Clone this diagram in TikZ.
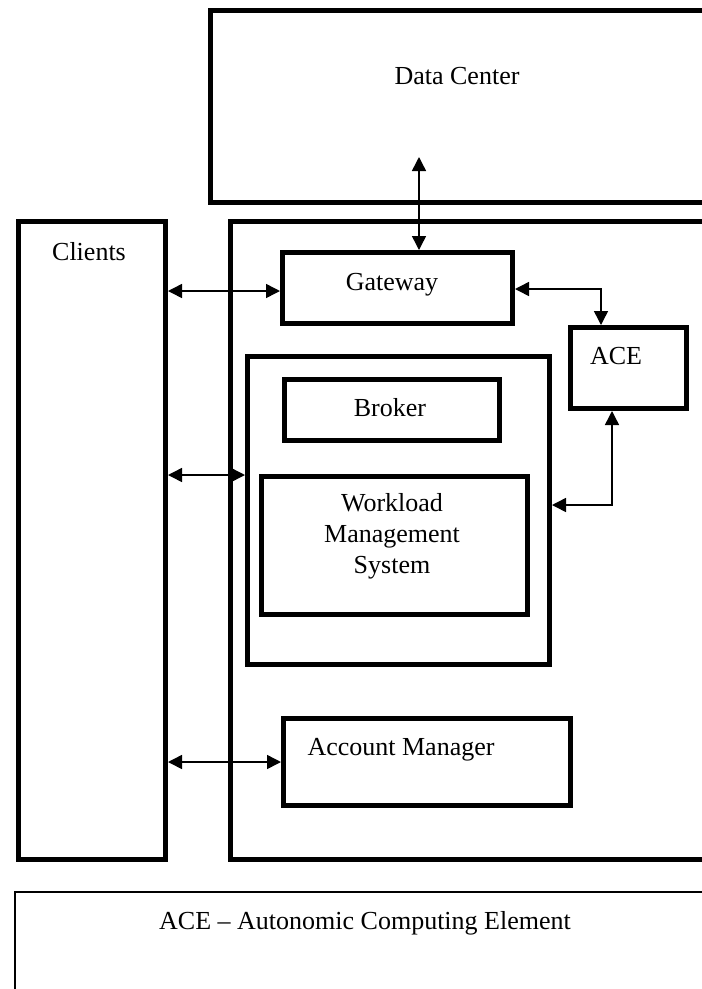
\documentclass[tikz,border=0pt]{standalone}
\usepackage{fontspec}
\setmainfont{Liberation Serif}
\usetikzlibrary{arrows.meta}
\tikzset{
 blk/.style={draw,line width=5pt,anchor=north west,inner sep=0pt},
 lbl/.style={font=\fontsize{26}{31}\selectfont,align=center},
 link/.style={line width=1.5pt,{Triangle[length=14pt,width=14pt]}-{Triangle[length=14pt,width=14pt]}}
}
\begin{document}
\begin{tikzpicture}[x=1pt,y=-1pt]
 \useasboundingbox (0,0) rectangle (702,989);
 \clip (0,0) rectangle (702,989);
 % outer blocks
 \node[blk,minimum width=560,minimum height=192] (dc) at (208,8) {};
 \node[blk,minimum width=147,minimum height=638] (clients) at (16,219) {};
 \node[blk,minimum width=540,minimum height=638] (main) at (228,219) {};
 % inner blocks
 \node[blk,minimum width=230,minimum height=71] (gw) at (280,250) {};
 \node[blk,minimum width=116,minimum height=81] (ace) at (568,325) {};
 \node[blk,minimum width=302,minimum height=308] (grp) at (245,354) {};
 \node[blk,minimum width=215,minimum height=61] (broker) at (282,377) {};
 \node[blk,minimum width=266,minimum height=138] (wms) at (259,474) {};
 \node[blk,minimum width=287,minimum height=87] (acc) at (281,716) {};
 \node[draw,line width=1.5pt,anchor=north west,minimum width=760,minimum height=200] (legend) at (14,891) {};
 % texts
 \node[lbl] (dctxt) at (457,76) {Data Center};
 \node[lbl] (clitxt) at (89,252) {Clients};
 \node[lbl] (gwtxt) at (392,285) {Gateway};
 \node[lbl] (acetxt) at (616,356) {ACE};
 \node[lbl] (brtxt) at (390,408) {Broker};
 \node[lbl] (wmstxt) at (392,536) {Workload\\Management\\System};
 \node[lbl] (acctxt) at (401,750) {Account Manager};
 \node[lbl] (legtxt) at (365,923) {ACE -- Autonomic Computing Element};
 % connectors
 \coordinate (dcin) at (419,157);
 \draw[link] (dcin) -- (dcin |- gw.north);
 \draw[link] (clients.east |- 0,291) -- (gw.west |- 0,291);
 \draw[link] (clients.east |- 0,475) -- (grp.west |- 0,475);
 \draw[link] (clients.east |- acc.west) -- (acc.west);
 \draw[link] (gw.east |- 0,289) -| (ace.north -| 601,0);
 \draw[link] (grp.east |- 0,505) -| (ace.south -| 612,0);
\end{tikzpicture}
\end{document}
